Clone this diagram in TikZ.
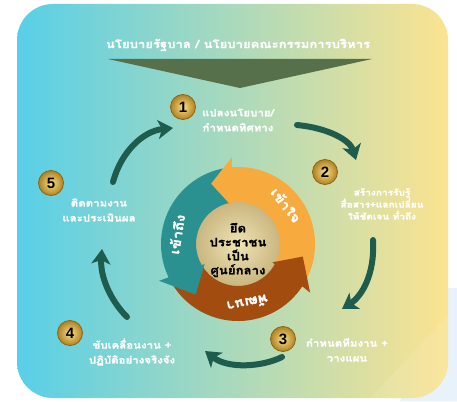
\documentclass[tikz,border=0pt]{standalone}
\usepackage{fontspec}
\newfontfamily\thai[Script=Thai, BoldFeatures={FakeBold=1.3}]{Loma}
\newfontfamily\thaiw[Script=Thai, FakeStretch=1.15, BoldFeatures={FakeBold=1.3}]{Loma}
\newfontfamily\numfont{Liberation Sans}
\usetikzlibrary{arrows.meta}
\definecolor{gdark}{HTML}{1E5C4D}
\definecolor{hdrgreen}{HTML}{56704B}
\definecolor{cardL}{HTML}{58CFE8}
\definecolor{cardM}{HTML}{DDE4CB}
\definecolor{cardR}{HTML}{FCE390}
\definecolor{bgblue}{HTML}{E7F2FB}
\definecolor{ringO}{HTML}{F7AA3D}
\definecolor{ringT}{HTML}{2A9190}
\definecolor{ringB}{HTML}{A24C10}
\definecolor{coreIn}{HTML}{EFE4B4}
\definecolor{coreOut}{HTML}{C9B57E}
\definecolor{goldIn}{HTML}{F8E08A}
\definecolor{goldOut}{HTML}{B08120}
\definecolor{goldEdge}{HTML}{8C6415}
\newcommand\rseg[3]{\fill[#1] (#2:77) arc[start angle=#2, end angle=#3, radius=77] -- ({#3+5}:42) arc[start angle={#3+5}, end angle={#2+5}, radius=42] -- cycle;}
\newcommand\rhead[3]{\fill[#1] ({#2-2}:87) -- ({#3}:66) -- ({#2+4}:39) -- cycle;}
\tikzset{
  cyc/.style={gdark, line width=6pt, line cap=round, -{Stealth[length=15pt,width=19pt,inset=4pt]}},
  numdot/.style={circle, minimum size=25pt, inner sep=0pt, inner color=goldIn, outer color=goldOut, draw=goldEdge, line width=0.8pt, font=\numfont\bfseries\fontsize{15}{15}\selectfont, text=black},
  steptext/.style={text=white, align=center, font=\thaiw\bfseries\fontsize{10}{15}\selectfont, inner sep=0pt},
  ringlabel/.style={text=white, font=\thaiw\bfseries\fontsize{13}{14}\selectfont, inner sep=0pt}
}
\begin{document}
\begin{tikzpicture}[x=1pt,y=-1pt]
\useasboundingbox (0,0) rectangle (457,401);
\fill[bgblue] (445,288) -- (457,288) -- (457,401) -- (400,401) -- cycle;
\shade[left color=cardL, middle color=cardM, right color=cardR, rounded corners=36pt] (17,4) rectangle (448,398);
\begin{scope}
\clip[rounded corners=36pt] (17,4) rectangle (448,398);
\fill[white, opacity=0.10] (448,315) -- (448,398) -- (370,398) -- cycle;
\end{scope}
% header
\node[text=white, font=\thaiw\bfseries\fontsize{11.4}{13}\selectfont] (hdr) at (238,45) {นโยบายรัฐบาล / นโยบายคณะกรรมการบริหาร};
\fill[hdrgreen] (108,59) -- (372,59) -- (240,88) -- cycle;
% ring
\begin{scope}[shift={(238,244)}, y=1pt]
  \shade[inner color=coreIn, outer color=coreOut] (0,0) circle[radius=43];
  \rseg{ringO}{-32}{96}
  \rseg{ringT}{96}{207}
  \rseg{ringB}{207}{328}
  \rhead{ringO}{96}{114}
  \rhead{ringT}{207}{230}
  \rhead{ringB}{-32}{-11}
  \node[ringlabel, rotate=-52] (lO) at (39:62) {เข้าใจ};
  \node[ringlabel, rotate=81] (lT) at (171:62) {เข้าถึง};
  \node[ringlabel, rotate=191] (lB) at (-81:60) {พัฒนา};
  \node[align=center, font=\thaiw\bfseries\fontsize{11.5}{14}\selectfont, text=black, inner sep=0pt] (core) at (0,-6) {ยึด\\ประชาชน\\เป็น\\ศูนย์กลาง};
\end{scope}
% numbers
\node[numdot] (n1) at (183,107) {1};
\node[numdot] (n2) at (325,172) {2};
\node[numdot] (n3) at (283,339) {3};
\node[numdot] (n4) at (70,333) {4};
\node[numdot] (n5) at (51,183) {5};
% step texts
\node[steptext] (t1) at (238,120) {แปลงนโยบาย/\\กำหนดทิศทาง};
\node[steptext, font=\thaiw\bfseries\fontsize{8.8}{12}\selectfont] (t2) at (382,204) {สร้างการรับรู้\\สื่อสาร+แลกเปลี่ยน\\ให้ชัดเจน ทั่วถึง};
\node[steptext] (t3) at (347,350) {กำหนดทีมงาน +\\วางแผน};
\node[steptext] (t4) at (132,352) {ขับเคลื่อนงาน +\\ปฏิบัติอย่างจริงจัง};
\node[steptext] (t5) at (99,210) {ติดตามงาน\\และประเมินผล};
% cycle arrows
\coordinate (a5s) at (113,182); \coordinate (a5e) at (173,128);
\coordinate (a1s) at (297,125); \coordinate (a1e) at (356,160);
\coordinate (a2s) at (373,240); \coordinate (a2e) at (342,309);
\coordinate (a3s) at (282,357); \coordinate (a3e) at (205,351);
\coordinate (a4s) at (127,317); \coordinate (a4e) at (102,249);
\draw[cyc] (a5s) .. controls (121,152) and (143,131) .. (a5e);
\draw[cyc] (a1s) .. controls (328,128) and (350,140) .. (a1e);
\draw[cyc] (a2s) .. controls (375,274) and (362,296) .. (a2e);
\draw[cyc] (a3s) .. controls (262,367) and (228,369) .. (a3e);
\draw[cyc] (a4s) .. controls (110,300) and (100,276) .. (a4e);
\end{tikzpicture}
\end{document}
